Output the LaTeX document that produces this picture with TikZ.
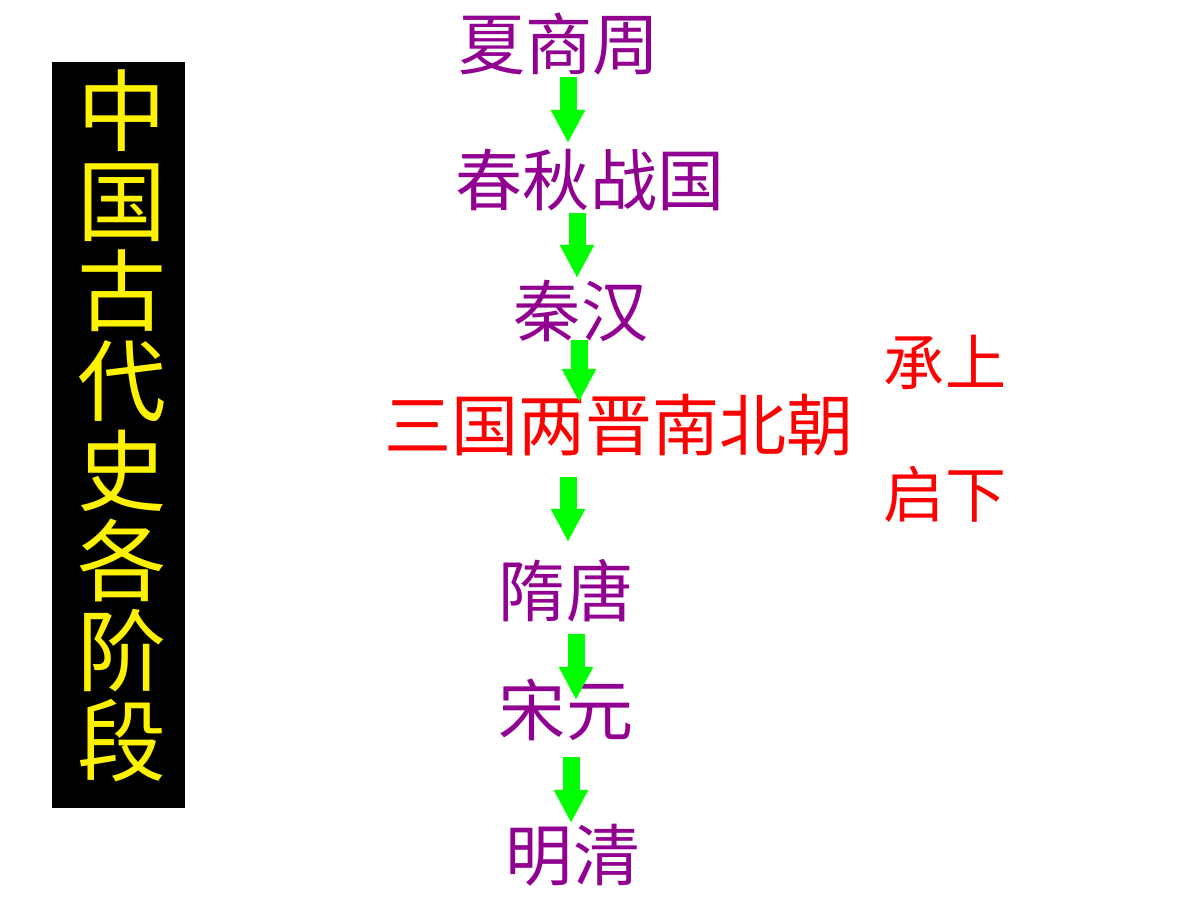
\documentclass[tikz,border=0pt]{standalone}
\usepackage{fontspec}
\newfontfamily\cjk{Noto Sans CJK SC}
\usetikzlibrary{arrows.meta}
\definecolor{eraviolet}{RGB}{145,0,145}
\definecolor{arrowgreen}{RGB}{0,255,0}
\begin{document}
\begin{tikzpicture}
[x=0.025cm, y=-0.025cm,
 nodedecorate/.style={inner sep=0pt, text height=42pt, text depth=5.7pt,
   text=eraviolet, font=\cjk\fontsize{47.7}{48}\selectfont},%
 keydecorate/.style={nodedecorate, text=red},%
 sidedecorate/.style={inner sep=0pt, text height=38.2pt, text depth=5.2pt,
   text=red, font=\cjk\fontsize{43.4}{44}\selectfont},%
 titledecorate/.style={inner sep=0pt, text height=55.7pt, text depth=7.6pt,
   text=yellow, font=\cjk\fontsize{63.3}{64}\selectfont},%
 arrowdecorate/.style={draw=arrowgreen, line width=12.1pt,
   -{Triangle[width=22.8pt,length=23.5pt]}}]
\path[fill=white, use as bounding box] (0,0) rectangle (1200,900);
%% title panel
\fill[black] (52,62) rectangle (185,808);
\foreach \ch [count=\i] in {中,国,古,代,史,各,阶,段}
{
  \node (title\i) at (122,{111+90*(\i-1)}) [titledecorate] {\ch};
}
%% eras
\foreach \nodename/\x/\y/\era in {xsz/559/44/夏商周, cqzg/590/180/春秋战国,
 qh/581/311/秦汉, st/566/591/隋唐, sy/566/710/宋元, mq/573/855/明清}
{
  \node (\nodename) at (\x,\y) [nodedecorate] {\era};
}
\node (sgln) at (619,425) [keydecorate] {三国两晋南北朝};
\node (cs) at (945,362) [sidedecorate] {承上};
\node (qx) at (945,494) [sidedecorate] {启下};
%% arrows
\foreach \i/\x/\ya/\yb in {1/568/77/143, 2/577/213/278, 3/579/340/402,
 4/568/477/542, 5/576/634/700, 6/571/757/823}
{
  \coordinate (top\i) at (\x,\ya);
  \coordinate (tip\i) at (\x,\yb);
  \draw[arrowdecorate] (top\i) -- (tip\i);
}
\end{tikzpicture}
\end{document}
